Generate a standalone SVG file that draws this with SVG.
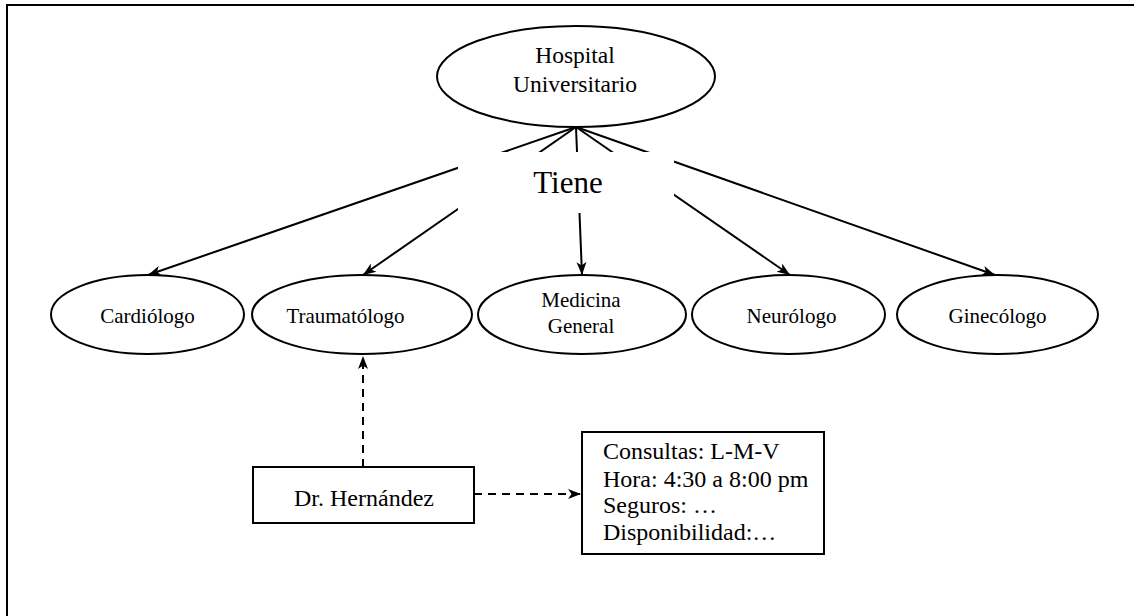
<svg xmlns="http://www.w3.org/2000/svg" width="1134" height="616" viewBox="0 0 1134 616">
  <defs>
    <style>
      .node { fill: #ffffff; stroke: #000000; stroke-width: 2; }
      .lbl { font-family: "Liberation Serif", "Times New Roman", serif; fill: #000000; text-anchor: middle; }
      .small { font-size: 21px; }
      .big { font-size: 24px; }
      .info { font-family: "Liberation Serif", "Times New Roman", serif; font-size: 24px; fill: #000000; }
      .edge { fill: none; stroke: #000000; stroke-width: 2; }
      .dash { fill: none; stroke: #000000; stroke-width: 2; stroke-dasharray: 8 6; }
    </style>
    <marker id="arrow" markerUnits="userSpaceOnUse" markerWidth="16" markerHeight="12" refX="13" refY="6" orient="auto">
      <path d="M0,1 L13,6 L0,11 L3.5,6 Z" fill="#000000"/>
    </marker>
  </defs>

  <rect id="frame" x="7" y="5" width="1200" height="700" fill="none" stroke="#000000" stroke-width="2"/>

  <g id="connectors">
    <line class="edge" x1="576" y1="127" x2="148" y2="275" marker-end="url(#arrow)"/>
    <line class="edge" x1="576" y1="127" x2="363" y2="275" marker-end="url(#arrow)"/>
    <line class="edge" x1="576" y1="127" x2="582" y2="275" marker-end="url(#arrow)"/>
    <line class="edge" x1="576" y1="127" x2="790" y2="275" marker-end="url(#arrow)"/>
    <line class="edge" x1="576" y1="127" x2="995" y2="275" marker-end="url(#arrow)"/>
    <g id="label-tiene">
      <rect x="458" y="152" width="216" height="61" fill="#ffffff"/>
      <text class="lbl" x="568" y="193" font-size="31">Tiene</text>
    </g>
    <line class="dash" x1="363" y1="467" x2="363" y2="356" marker-end="url(#arrow)"/>
    <line class="dash" x1="474" y1="494" x2="581" y2="494" marker-end="url(#arrow)"/>
  </g>

  <g id="hospital">
    <ellipse class="node" cx="576" cy="76.5" rx="139" ry="50.5"/>
    <text class="lbl" x="575" y="63" font-size="23.5">Hospital</text>
    <text class="lbl" x="575" y="92" font-size="23.5">Universitario</text>
  </g>

  <g id="cardiologo">
    <ellipse class="node" cx="147.5" cy="314.5" rx="96.5" ry="39.5"/>
    <text class="lbl small" x="147.5" y="322.5">Cardiólogo</text>
  </g>

  <g id="traumatologo">
    <ellipse class="node" cx="362" cy="314.5" rx="110" ry="39.5"/>
    <text class="lbl small" x="345.5" y="322.5">Traumatólogo</text>
  </g>

  <g id="medicina-general">
    <ellipse class="node" cx="582" cy="314.5" rx="104" ry="39.5"/>
    <text class="lbl small" x="581" y="307">Medicina</text>
    <text class="lbl small" x="581" y="333">General</text>
  </g>

  <g id="neurologo">
    <ellipse class="node" cx="788.5" cy="314.5" rx="96.5" ry="39.5"/>
    <text class="lbl small" x="791.5" y="322.5">Neurólogo</text>
  </g>

  <g id="ginecologo">
    <ellipse class="node" cx="997.5" cy="314.5" rx="100.5" ry="39.5"/>
    <text class="lbl small" x="997.5" y="322.5">Ginecólogo</text>
  </g>

  <g id="dr-hernandez">
    <rect class="node" x="253" y="467" width="221" height="56"/>
    <text class="lbl big" x="364" y="506">Dr. Hernández</text>
  </g>

  <g id="info">
    <rect class="node" x="582" y="432" width="242" height="122"/>
    <text class="info" x="603" y="459">Consultas: L-M-V</text>
    <text class="info" x="603" y="487">Hora: 4:30 a 8:00 pm</text>
    <text class="info" x="603" y="513">Seguros: …</text>
    <text class="info" x="603" y="540">Disponibilidad:…</text>
  </g>
</svg>
